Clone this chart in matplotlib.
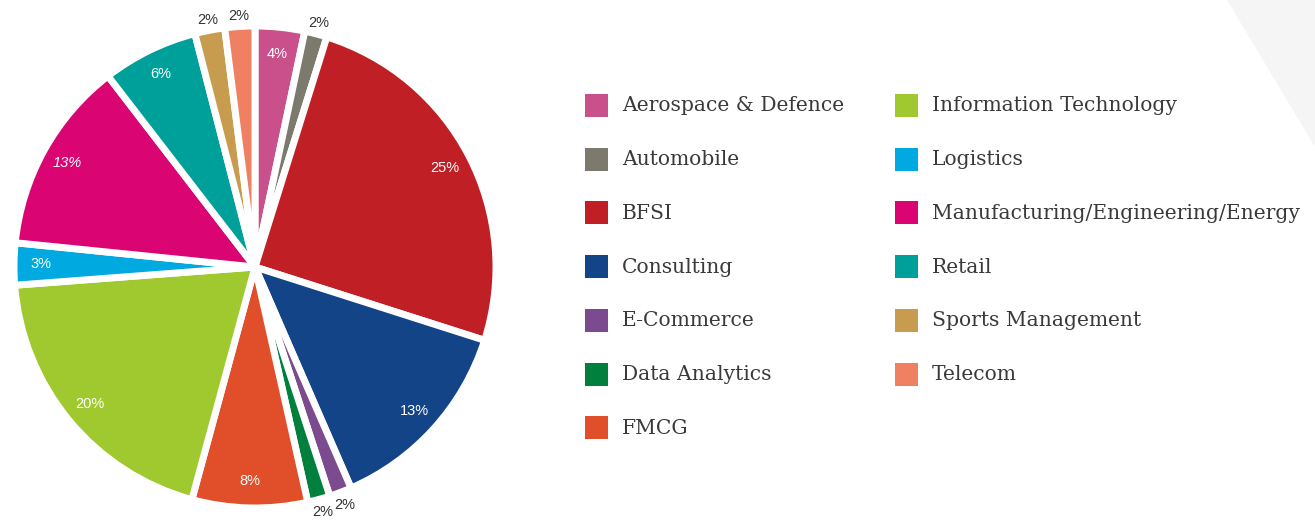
import matplotlib
matplotlib.use('Agg')
import matplotlib.pyplot as plt
from matplotlib.patches import Rectangle, Polygon
import numpy as np

# sector shares and the printed labels
sectors = ['Aerospace & Defence', 'Automobile', 'BFSI', 'Consulting', 'E-Commerce',
           'Data Analytics', 'FMCG', 'Information Technology', 'Logistics',
           'Manufacturing/Engineering/Energy', 'Retail', 'Sports Management', 'Telecom']
shares = [3.3, 1.5, 25.0, 13.5, 1.5, 1.5, 7.7, 19.5, 2.8, 12.9, 6.4, 2.0, 2.0]
pct_labels = ['4%', '2%', '25%', '13%', '2%', '2%', '8%', '20%', '3%', '13%', '6%', '2%', '2%']
colors = ['#C9508A', '#7B7A6C', '#C01F25', '#124487', '#7C4A8E', '#007F3D', '#E04E2A',
          '#A0C930', '#00A9DF', '#DB0473', '#00A09A', '#C89C4F', '#F08062']

W, H = 1315, 520
fig = plt.figure(figsize=(W / 100, H / 100), dpi=100)

# light grey corner shape at top right
fig.patches.append(Polygon([[1227 / W, 1], [1, 1], [1, 1 - 147 / H]], closed=True,
                           transform=fig.transFigure, facecolor='#F5F5F5',
                           edgecolor='none', zorder=0))

cx, cy, r = 255, 267, 241
ax = fig.add_axes([(cx - r) / W, (H - cy - r) / H, 2 * r / W, 2 * r / H])
wedges, _ = ax.pie(shares, colors=colors, startangle=90, counterclock=False,
                   radius=1, wedgeprops=dict(edgecolor='white', linewidth=5))
ax.set_xlim(-1, 1)
ax.set_ylim(-1, 1)
ax.axis('off')

for w, lab, val in zip(wedges, pct_labels, shares):
    w.set_clip_on(False)
    ang = np.deg2rad((w.theta1 + w.theta2) / 2)
    if val < 2.5 and lab == '2%':
        d = 1.045 if np.sin(ang) > 0 else 1.055
        col = '#333333'
    else:
        d = 0.89
        col = 'white'
    style = 'italic' if lab == '13%' and val < 13 else 'normal'
    ax.text(d * np.cos(ang), d * np.sin(ang), lab, ha='center', va='center',
            color=col, fontsize=10.5, family='Liberation Sans', style=style)

# legend, two columns
for i, (name, c) in enumerate(zip(sectors, colors)):
    col, row = divmod(i, 7)
    x0 = 585 + col * 310
    y0 = 106 + row * 53.7
    fig.patches.append(Rectangle((x0 / W, 1 - (y0 + 11) / H), 23 / W, 23 / H,
                                 transform=fig.transFigure, facecolor=c,
                                 edgecolor='none'))
    fig.text((x0 + 37) / W, 1 - y0 / H, name, ha='left', va='center',
             fontsize=14.6, family='DejaVu Serif', color='#3A3A3A')

fig.savefig('out.png', dpi=100)
